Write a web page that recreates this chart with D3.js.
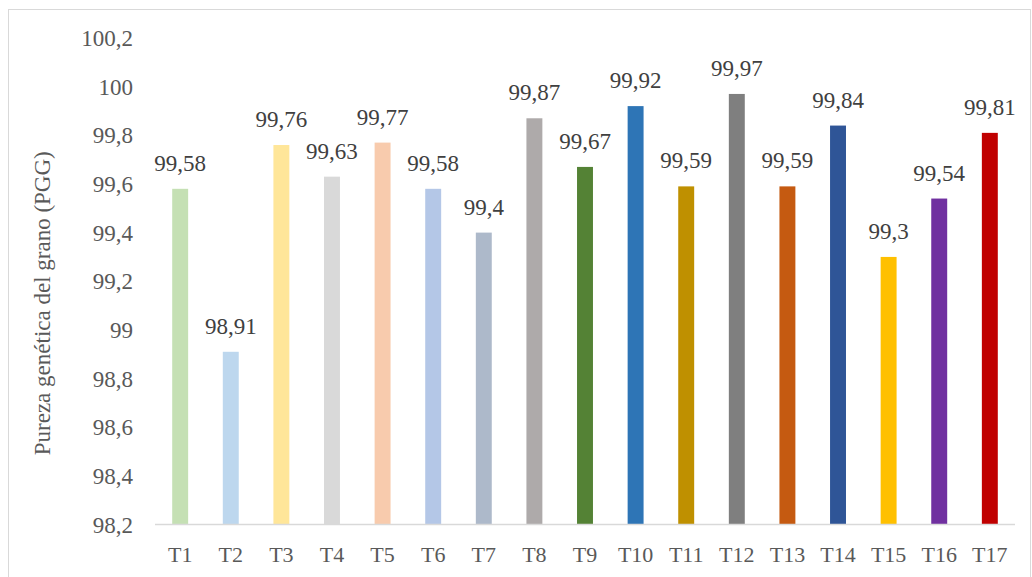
<!DOCTYPE html>
<html>
<head>
<meta charset="utf-8">
<script src="https://cdn.jsdelivr.net/npm/d3@7"></script>
<style>
  html, body { margin: 0; padding: 0; background: #fff; }
  svg { display: block; }
  svg text { font-family: "Liberation Serif", "DejaVu Serif", "Times New Roman", serif; }
</style>
</head>
<body>
<svg id="chart" width="1032" height="577"></svg>
<script>
// Treatments and their grain genetic purity values
const categories = ["T1","T2","T3","T4","T5","T6","T7","T8","T9","T10","T11","T12","T13","T14","T15","T16","T17"];
const values = [99.58, 98.91, 99.76, 99.63, 99.77, 99.58, 99.4, 99.87, 99.67, 99.92, 99.59, 99.97, 99.59, 99.84, 99.3, 99.54, 99.81];
const colors = ["#c5e0b4","#bdd7ee","#ffe699","#d9d9d9","#f8cbad","#b4c7e7","#adb9ca","#aeaaaa","#548235","#2e75b6","#bf9000","#7f7f7f","#c55a11","#2f5597","#ffc000","#7030a0","#c00000"];
const yTicks = [98.2, 98.4, 98.6, 98.8, 99, 99.2, 99.4, 99.6, 99.8, 100, 100.2];
const yTitle = "Pureza genética del grano (PGG)";

const svg = d3.select("#chart");
const textColor = "#595959";

// chart frame
svg.append("rect")
  .attr("x", 8.5).attr("y", 9.5)
  .attr("width", 1022).attr("height", 575)
  .attr("fill", "#fff")
  .attr("stroke", "#d9d9d9").attr("stroke-width", 1);

const plotLeft = 155, plotRight = 1015, plotTop = 38, plotBottom = 524.5;

const x = d3.scaleBand().domain(categories).range([plotLeft, plotRight]).paddingInner(0.685).paddingOuter(0.34);
const y = d3.scaleLinear().domain([98.2, 100.2]).range([plotBottom, plotTop]);

const fmt = v => d3.format("")(v).replace(".", ",");

// bars
svg.append("g").selectAll("rect")
  .data(values)
  .join("rect")
  .attr("x", (d, i) => x(categories[i]))
  .attr("y", d => y(d))
  .attr("width", x.bandwidth())
  .attr("height", d => y(98.2) - y(d))
  .attr("fill", (d, i) => colors[i]);

// value labels
svg.append("g").selectAll("text")
  .data(values)
  .join("text")
  .attr("x", (d, i) => x(categories[i]) + x.bandwidth() / 2)
  .attr("y", d => y(d) - 18)
  .attr("text-anchor", "middle")
  .attr("font-size", 23)
  .attr("fill", "#404040")
  .text(d => fmt(d));

// y axis (labels only)
const yAxis = d3.axisLeft(y).tickValues(yTicks).tickSize(0).tickPadding(0).tickFormat(fmt);
const gy = svg.append("g").attr("transform", `translate(133,0)`).call(yAxis);
gy.select(".domain").remove();
gy.selectAll("text")
  .attr("font-family", null)
  .attr("font-size", 23)
  .attr("fill", textColor)
  .attr("dy", "0.33em");
gy.attr("font-family", null).attr("font-size", null);

// x axis
const xAxis = d3.axisBottom(x).tickSize(0).tickPadding(0);
const gx = svg.append("g").attr("transform", `translate(0,${plotBottom})`).call(xAxis);
gx.attr("font-family", null).attr("font-size", null);
gx.select(".domain").attr("stroke", "#d9d9d9").attr("stroke-width", 1.5)
  .attr("d", `M${plotLeft},0H${plotRight}`);
gx.selectAll("text")
  .attr("font-size", 22)
  .attr("fill", textColor)
  .attr("dy", "0")
  .attr("y", 37);

// y axis title
svg.append("text")
  .attr("transform", `translate(50,${(plotTop + plotBottom) / 2 + 22}) rotate(-90)`)
  .attr("text-anchor", "middle")
  .attr("font-size", 23)
  .attr("fill", textColor)
  .text(yTitle);
</script>
</body>
</html>
